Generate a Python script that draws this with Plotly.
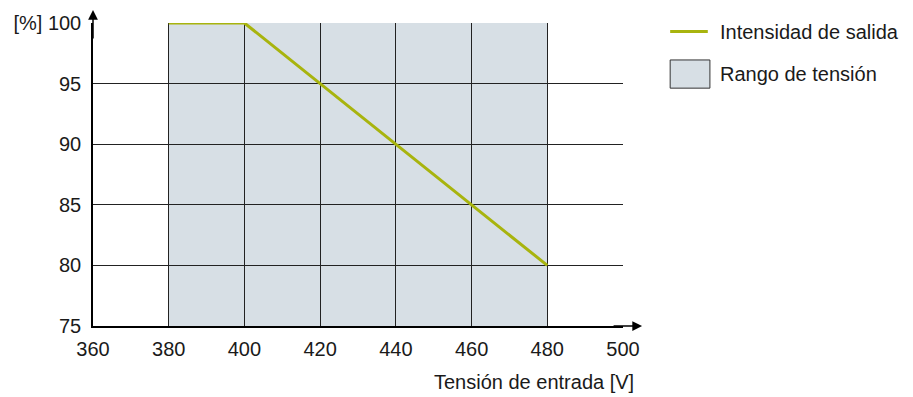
import plotly.graph_objects as go

# data
voltage = [380, 400, 420, 440, 460, 480]
current_pct = [100, 100, 95, 90, 85, 80]
range_v = [380, 480]
x_ticks = [360, 380, 400, 420, 440, 460, 480, 500]
y_ticks = [75, 80, 85, 90, 95, 100]
y_ticktext = ["75", "80", "85", "90", "95", "[%] 100"]

line_color = "#a8b40e"
fill_color = "#d7dfe5"
font = dict(family="Liberation Sans, Arial, sans-serif", size=20, color="#1a1a1a")

fig = go.Figure()

fig.add_trace(
    go.Scatter(
        x=voltage,
        y=current_pct,
        mode="lines",
        line=dict(color=line_color, width=3),
        name="Intensidad de salida",
        showlegend=False,
    )
)

shapes = [
    # rango de tension, under the grid
    dict(type="rect", xref="x", yref="y", x0=range_v[0], x1=range_v[1],
         y0=y_ticks[0], y1=y_ticks[-1], fillcolor=fill_color,
         line=dict(width=0), layer="below"),
    # legend symbols
    dict(type="line", xref="paper", yref="paper", x0=1.089, x1=1.160,
         y0=0.972, y1=0.972, line=dict(color=line_color, width=3)),
    dict(type="rect", xref="paper", yref="paper", x0=1.089, x1=1.164,
         y0=0.785, y1=0.878, fillcolor=fill_color,
         line=dict(color="#333", width=1)),
]

annotations = [
    dict(text="Intensidad de salida", xref="paper", yref="paper", x=1.179, y=0.970,
         xanchor="left", yanchor="middle", showarrow=False, font=font),
    dict(text="Rango de tensión", xref="paper", yref="paper", x=1.179, y=0.832,
         xanchor="left", yanchor="middle", showarrow=False, font=font),
    dict(text="Tensión de entrada [V]", xref="paper", yref="paper", x=1.024, y=0,
         xanchor="right", yanchor="middle", yshift=-56, showarrow=False, font=font),
    # axis arrows
    dict(text="", xref="paper", yref="paper", x=1.036, y=0, ax=-30, ay=0,
         showarrow=True, arrowhead=2, arrowsize=1.3, arrowwidth=1.5, arrowcolor="#000"),
    dict(text="", xref="paper", yref="paper", x=0, y=1.043, ax=0, ay=30,
         showarrow=True, arrowhead=2, arrowsize=1.3, arrowwidth=1.5, arrowcolor="#000"),
]

# page body adds an 8px margin, so the figure is drawn 8px smaller
fig.update_layout(
    width=905,
    height=389,
    margin=dict(l=85, r=290, t=15, b=71),
    plot_bgcolor="white",
    paper_bgcolor="white",
    font=font,
    shapes=shapes,
    annotations=annotations,
    xaxis=dict(
        range=[x_ticks[0], x_ticks[-1]],
        tickvals=x_ticks,
        showgrid=True,
        gridcolor="#222",
        gridwidth=1,
        zeroline=False,
        showline=True,
        linecolor="#000",
        linewidth=1.5,
        ticks="",
        ticklabelstandoff=4,
        automargin=False,
    ),
    yaxis=dict(
        range=[y_ticks[0], y_ticks[-1]],
        tickvals=y_ticks,
        ticktext=y_ticktext,
        showgrid=True,
        gridcolor="#222",
        gridwidth=1,
        zeroline=False,
        showline=True,
        linecolor="#000",
        linewidth=1.5,
        ticks="",
        ticklabelstandoff=6,
        automargin=False,
    ),
)

fig.write_html("out.html")
